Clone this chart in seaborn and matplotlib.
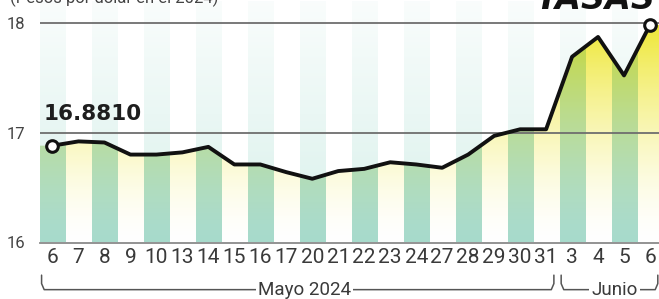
import numpy as np
import matplotlib
matplotlib.use("Agg")
import matplotlib.pyplot as plt
import matplotlib.transforms as mtransforms
import seaborn as sns

# -----------------------------
# Data (pesos por dólar, mayo-junio 2024)
# -----------------------------
days = ["6", "7", "8", "9", "10", "13", "14", "15", "16", "17", "20", "21",
        "22", "23", "24", "27", "28", "29", "30", "31", "3", "4", "5", "6"]
rates = [16.881, 16.92, 16.91, 16.80, 16.80, 16.82, 16.87, 16.71, 16.71, 16.64,
         16.58, 16.65, 16.67, 16.73, 16.71, 16.68, 16.80, 16.97, 17.03, 17.03,
         17.69, 17.87, 17.52, 17.98]
y_ticks = [16, 17, 18]
first_label = "16.8810"
month_groups = [("Mayo 2024", 0, 19), ("Junio", 20, 23)]

# -----------------------------
# Style
# -----------------------------
sns.set_theme(style="white")
plt.rcParams['font.family'] = ['Roboto', 'DejaVu Sans']

W, H = 659, 299
fig = plt.figure(figsize=(W / 100, H / 100), dpi=100)
ax = fig.add_axes([39.5 / W, (H - 242.5) / H, 623.5 / W, 241.8 / H])

n = len(days)
x = np.arange(n)
y0, y1 = 16, 18.2
ax.set_xlim(-0.5, n - 0.5)
ax.set_ylim(y0, y1)

# --- striped background (alternate columns per day) ---
rows = 220
yy = np.linspace(y0, y1, rows)[:, None]
t = (yy - y0) / (y1 - y0)
even = (np.arange(n) % 2 == 0)[None, :]

teal_bg = np.array([0.79, 0.92, 0.89])
a_bg = np.where(even, 0.72 - 0.62 * t, 0.0)
bg = np.ones((rows, n, 3)) * (1 - a_bg[..., None]) + teal_bg * a_bg[..., None]
ax.imshow(bg, extent=(-0.5, n - 0.5, y0, y1), origin="lower",
          aspect="auto", interpolation="nearest", zorder=0)

# --- yellow gradient under the line, stripes multiplied on top ---
yellow = np.array([0.93, 0.90, 0.16])
a_y = np.clip(0.95 * ((yy - 16) / 2.0) ** 1.5, 0, 1)
base = 1 - a_y[..., None] * (1 - yellow)
base = np.broadcast_to(base, (rows, n, 3))
teal = np.array([0.52, 0.80, 0.72])
a_t = np.where(even, 0.72 - 0.4 * t, 0.0)
tint = 1 - a_t[..., None] * (1 - teal)
under = base * tint
im = ax.imshow(under, extent=(-0.5, n - 0.5, y0, y1), origin="lower",
               aspect="auto", interpolation="nearest", zorder=1)

xs = np.concatenate([[-0.5], x, [n - 0.5]])
ys = np.concatenate([[rates[0]], rates, [rates[-1]]])
fb = ax.fill_between(xs, ys, y0, facecolor="none", edgecolor="none")
im.set_clip_path(fb.get_paths()[0], transform=ax.transData)

# --- reference lines ---
for v in (17, 18):
    ax.axhline(v, color="#6e6e6e", lw=1.3, zorder=2)

# --- rate line ---
sns.lineplot(x=x, y=rates, ax=ax, color="#111111", lw=2.8,
             solid_joinstyle="round", solid_capstyle="round", zorder=3)
sns.scatterplot(x=[x[0], x[-1]], y=[rates[0], rates[-1]], ax=ax, s=70,
                color="white", edgecolor="#111111", linewidth=2.2,
                zorder=5, clip_on=False)

ax.text(-0.36, rates[0] + 0.235, first_label, fontsize=15.5,
        fontweight="bold", family="DejaVu Sans", color="#1e1e1e",
        ha="left", va="baseline", zorder=6)

# --- axes ---
ax.set_xticks(x)
ax.set_xticklabels(days, fontsize=15, color="#3a3a3a")
ax.set_xticks(np.arange(-0.5, n, 1), minor=True)
ax.set_yticks(y_ticks)
ax.set_yticklabels([str(v) for v in y_ticks], fontsize=12, color="#444444")
ax.tick_params(axis="x", which="major", length=0, pad=4)
ax.tick_params(axis="x", which="minor", direction="in", length=3,
               width=1, color="#888888")
ax.tick_params(axis="y", length=0, pad=10)
for s in ("top", "right", "left"):
    ax.spines[s].set_visible(False)
ax.spines["bottom"].set_color("#8a8a8a")
ax.spines["bottom"].set_linewidth(1.3)
ax.spines["bottom"].set_zorder(4)
ax.set_xlabel("")
ax.set_ylabel("")
ax.grid(False)

# --- month brackets below the day labels ---
trans = mtransforms.blended_transform_factory(ax.transData, ax.transAxes)
yt, yb = -0.135, -0.195
for label, i0, i1 in month_groups:
    left = i0 - 0.42
    right = i1 + 0.3
    ax.plot([left, left, left + 0.1, right - 0.1, right, right],
            [yt, yb + 0.025, yb, yb, yb + 0.025, yt],
            transform=trans, color="#555555", lw=1.1, clip_on=False,
            solid_joinstyle="round")
    ax.text((left + right) / 2 + (0.25 if i0 == 0 else 0.2), yb, label,
            transform=trans, fontsize=13.5, color="#3a3a3a", ha="center",
            va="center", bbox=dict(facecolor="white", edgecolor="none", pad=1.5))

# --- header texts, cut by the top edge as in the source ---
fig.text(10 / W, 1 - 3 / H, "(Pesos por dólar en el 2024)", fontsize=12,
         color="#444444", ha="left", va="baseline")
fig.text(655 / W, 1 - 9 / H, "TASAS", fontsize=24, fontweight="heavy",
         family="DejaVu Sans", style="italic", color="#111111",
         ha="right", va="baseline")

fig.savefig("out.png", dpi=100)
